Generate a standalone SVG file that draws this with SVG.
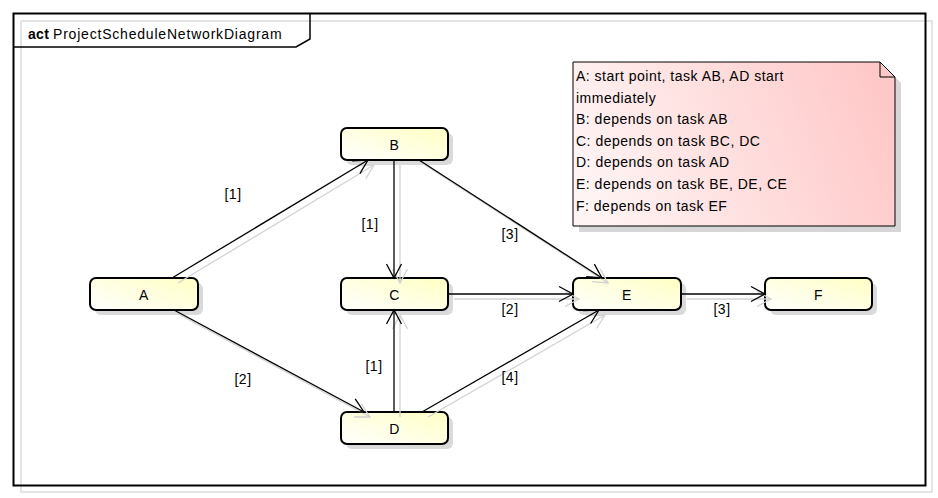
<svg xmlns="http://www.w3.org/2000/svg" width="938" height="498" viewBox="0 0 938 498">
<defs>
<style>
text{font-family:"Liberation Sans",Arial,sans-serif;font-size:14px;letter-spacing:0.5px;fill:#000}
.lbl{text-anchor:middle}
.node rect.box{stroke:#000;stroke-width:2;fill:url(#ng)}
.node rect.sh{fill:#dadada;stroke:none}
.edge{stroke:#000;stroke-width:1.3;fill:none;marker-end:url(#ah)}
.eshadow{stroke:#d2d2d2;stroke-width:1.3;fill:none;marker-end:url(#ahg)}
</style>
<linearGradient id="ng" x1="0" y1="1" x2="1" y2="0">
<stop offset="0" stop-color="#ffffff"/>
<stop offset="1" stop-color="#ffffc4"/>
</linearGradient>
<linearGradient id="pg" x1="0" y1="0.6" x2="1" y2="0.4">
<stop offset="0" stop-color="#fff4f4"/>
<stop offset="1" stop-color="#ffc8c8"/>
</linearGradient>
<marker id="ah" markerUnits="userSpaceOnUse" markerWidth="20" markerHeight="20" refX="0" refY="0" orient="auto" overflow="visible">
<path d="M-14,-7.5 L0,0 L-14,7.5" fill="none" stroke="#000" stroke-width="1.3"/>
</marker>
<marker id="ahg" markerUnits="userSpaceOnUse" markerWidth="20" markerHeight="20" refX="0" refY="0" orient="auto" overflow="visible">
<path d="M-14,-7.5 L0,0 L-14,7.5" fill="none" stroke="#d2d2d2" stroke-width="1.3"/>
</marker>
</defs>
<rect width="938" height="498" fill="#fff"/>
<g id="frame">
<rect x="21" y="21" width="911" height="471" fill="none" stroke="#dcdcdc" stroke-width="1.5"/>
<rect x="13.5" y="13.5" width="912" height="472" fill="none" stroke="#000" stroke-width="2"/>
<path d="M13.5,47 H296 L310,39 V13.5" fill="none" stroke="#000" stroke-width="1.5"/>
<text x="28" y="39" style="font-weight:bold;letter-spacing:0.3px">act</text>
<text x="53" y="39" style="letter-spacing:0.8px">ProjectScheduleNetworkDiagram</text>
</g>
<g id="note">
<path d="M579,68 H886 L901,83 V232 H579 Z" fill="#d6d6d6"/>
<path d="M573,62 H880 L895,77 V226 H573 Z" fill="url(#pg)" stroke="#000" stroke-width="1"/>
<path d="M880,62 V77 H895" fill="none" stroke="#000" stroke-width="1"/>
<text x="576" y="81">A: start point, task AB, AD start</text>
<text x="576" y="102.6">immediately</text>
<text x="576" y="124.2">B: depends on task AB</text>
<text x="576" y="145.8">C: depends on task BC, DC</text>
<text x="576" y="167.4">D: depends on task AD</text>
<text x="576" y="189">E: depends on task BE, DE, CE</text>
<text x="576" y="210.6">F: depends on task EF</text>
</g>
<g id="node-A" class="node">
<rect class="sh" x="95" y="283" width="108" height="32" rx="6"/>
<rect class="box" x="90" y="278" width="108" height="32" rx="6"/>
<text class="lbl" x="144" y="300">A</text>
</g>
<g id="node-B" class="node">
<rect class="sh" x="346" y="133" width="107" height="32" rx="6"/>
<rect class="box" x="341" y="128" width="107" height="32" rx="6"/>
<text class="lbl" x="394.5" y="150">B</text>
</g>
<g id="node-C" class="node">
<rect class="sh" x="346" y="283" width="107" height="32" rx="6"/>
<rect class="box" x="341" y="278" width="107" height="32" rx="6"/>
<text class="lbl" x="394.5" y="300">C</text>
</g>
<g id="node-D" class="node">
<rect class="sh" x="346" y="417" width="107" height="32" rx="6"/>
<rect class="box" x="341" y="412" width="107" height="32" rx="6"/>
<text class="lbl" x="394.5" y="434">D</text>
</g>
<g id="node-E" class="node">
<rect class="sh" x="578" y="283" width="108" height="32" rx="6"/>
<rect class="box" x="573" y="278" width="108" height="32" rx="6"/>
<text class="lbl" x="627" y="300">E</text>
</g>
<g id="node-F" class="node">
<rect class="sh" x="770" y="283" width="107" height="32" rx="6"/>
<rect class="box" x="765" y="278" width="107" height="32" rx="6"/>
<text class="lbl" x="818.5" y="300">F</text>
</g>
<g id="connectors">
<g transform="translate(6,5)">
<line class="eshadow" x1="172" y1="278" x2="368" y2="160"/>
<line class="eshadow" x1="174" y1="310" x2="364" y2="412"/>
<line class="eshadow" x1="394" y1="160" x2="394" y2="278"/>
<line class="eshadow" x1="419" y1="160" x2="602" y2="278"/>
<line class="eshadow" x1="448" y1="294" x2="573" y2="294"/>
<line class="eshadow" x1="394" y1="412" x2="394" y2="310"/>
<line class="eshadow" x1="422" y1="412" x2="599" y2="310"/>
<line class="eshadow" x1="681" y1="294" x2="765" y2="294"/>
</g>
<line class="edge" x1="172" y1="278" x2="368" y2="160"/>
<line class="edge" x1="174" y1="310" x2="364" y2="412"/>
<line class="edge" x1="394" y1="160" x2="394" y2="278"/>
<line class="edge" x1="419" y1="160" x2="602" y2="278"/>
<line class="edge" x1="448" y1="294" x2="573" y2="294"/>
<line class="edge" x1="394" y1="412" x2="394" y2="310"/>
<line class="edge" x1="422" y1="412" x2="599" y2="310"/>
<line class="edge" x1="681" y1="294" x2="765" y2="294"/>
<text class="lbl" x="233" y="199">[1]</text>
<text class="lbl" x="243" y="384">[2]</text>
<text class="lbl" x="370" y="229">[1]</text>
<text class="lbl" x="510" y="239">[3]</text>
<text class="lbl" x="510" y="314">[2]</text>
<text class="lbl" x="374" y="371">[1]</text>
<text class="lbl" x="510" y="382">[4]</text>
<text class="lbl" x="722" y="314">[3]</text>
</g>
</svg>
